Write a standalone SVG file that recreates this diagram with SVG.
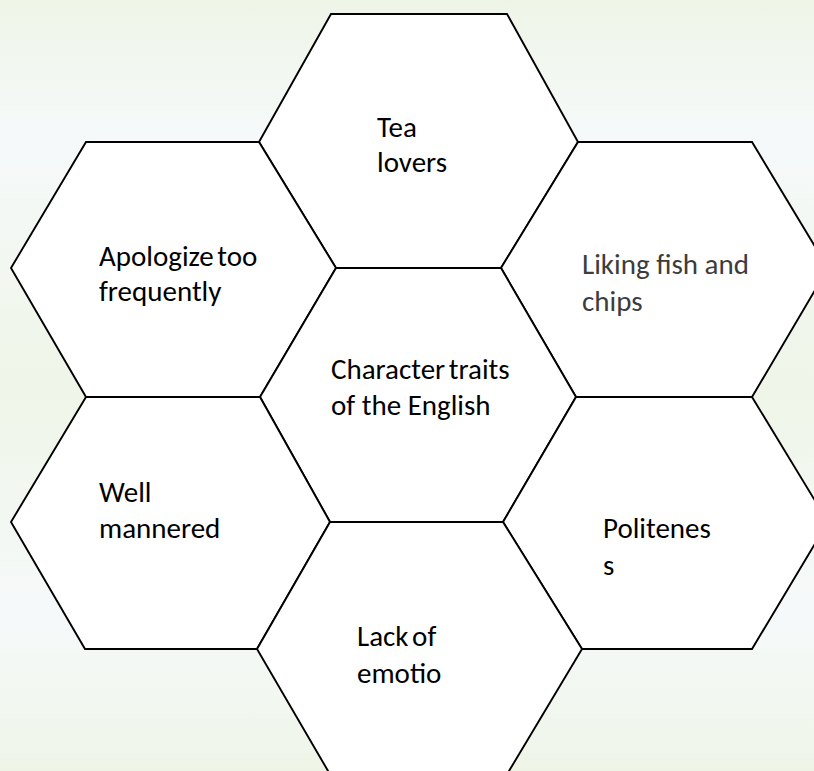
<svg xmlns="http://www.w3.org/2000/svg" width="814" height="771" viewBox="0 0 814 771">
  <defs>
    <!-- soft banded page background -->
    <linearGradient id="bg" x1="0" y1="0" x2="0" y2="1">
      <stop offset="0" stop-color="#EEF5E7"/>
      <stop offset="0.18" stop-color="#F6F9FA"/>
      <stop offset="0.5" stop-color="#EFF5E8"/>
      <stop offset="0.8" stop-color="#F6F9FA"/>
      <stop offset="1" stop-color="#EEF5E7"/>
    </linearGradient>
    <style>
      .hex { fill: #FFFFFF; stroke: #000000; stroke-width: 1.9; stroke-linejoin: miter; }
      .lbl { font-family: Carlito, Lato, "Liberation Sans", sans-serif; font-size: 29px; fill: #000000; }
      .grey { fill: #3C3C3C; }
      .tight { word-spacing: -3px; }
    </style>
  </defs>

  <rect x="0" y="0" width="814" height="771" fill="url(#bg)"/>

  <g id="tea-lovers">
    <polygon class="hex" points="331,14 507,14 578,142 501,268 336,268 259,142"/>
    <text class="lbl" x="377" y="137">Tea</text>
    <text class="lbl" x="377" y="172">lovers</text>
  </g>

  <g id="apologize">
    <polygon class="hex" points="86,142 259,142 336,268 260,397 86,397 11,268"/>
    <text class="lbl tight" x="99" y="266">Apologize too</text>
    <text class="lbl" x="99" y="301">frequently</text>
  </g>

  <g id="fish-and-chips">
    <polygon class="hex" points="578,142 752,142 828,268 752,397 576,397 501,268"/>
    <text class="lbl grey" x="582" y="274">Liking fish and</text>
    <text class="lbl grey" x="582" y="311">chips</text>
  </g>

  <g id="character-traits">
    <polygon class="hex" points="336,268 501,268 576,397 503,522 330,522 260,397"/>
    <text class="lbl tight" x="331" y="379">Character traits</text>
    <text class="lbl" x="331" y="415">of the English</text>
  </g>

  <g id="well-mannered">
    <polygon class="hex" points="86,397 260,397 330,522 257,649 85,649 11,522"/>
    <text class="lbl" x="99" y="502">Well</text>
    <text class="lbl" x="99" y="538">mannered</text>
  </g>

  <g id="politeness">
    <polygon class="hex" points="576,397 752,397 828,522 752,649 582,649 503,522"/>
    <text class="lbl" x="603" y="538">Politenes</text>
    <text class="lbl" x="603" y="575">s</text>
  </g>

  <g id="lack-of-emotion">
    <polygon class="hex" points="330,522 503,522 582,649 506,776 331,776 257,649"/>
    <text class="lbl tight" x="357" y="646">Lack of</text>
    <text class="lbl" x="357" y="683">emotio</text>
  </g>
</svg>
